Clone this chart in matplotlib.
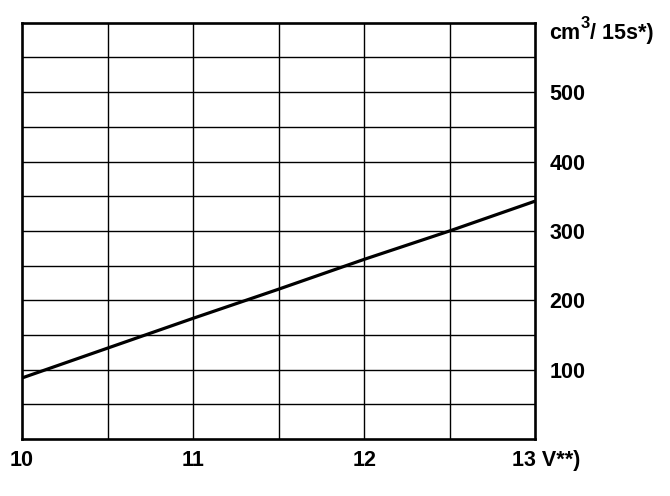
import matplotlib
matplotlib.use("Agg")
from matplotlib import pyplot as plt
import numpy as np

plt.rcParams["font.family"] = ["Liberation Sans", "DejaVu Sans"]
plt.rcParams["font.weight"] = "bold"

# voltage (V) vs delivery (cm3 / 15 s)
volts = [10.0, 10.5, 11.0, 11.5, 12.0, 12.5, 13.0]
delivery = [88, 131, 174, 216, 259, 300, 343]

x_ticks = [10, 11, 12]
x_labels = ["10", "11", "12"]
y_ticks = [100, 200, 300, 400, 500]
y_labels = ["100", "200", "300", "400", "500"]

FS = 15.5

fig = plt.figure(figsize=(6.7, 4.96), dpi=100)
ax = fig.add_axes([0.033, 0.115, 0.766, 0.839])

ax.set_xlim(10, 13)
ax.set_ylim(0, 600)

# grid: every 0.5 V and every 50 cm3
for gx in np.arange(10.5, 13, 0.5):
    ax.axvline(gx, color="black", linewidth=1.0, zorder=1)
for gy in np.arange(50, 600, 50):
    ax.axhline(gy, color="black", linewidth=1.0, zorder=1)

ax.plot(volts, delivery, color="black", linewidth=2.3, solid_capstyle="butt", zorder=3)

ax.set_xticks(x_ticks)
ax.set_xticklabels(x_labels, fontsize=FS, fontweight="bold")
ax.yaxis.tick_right()
ax.set_yticks(y_ticks)
ax.set_yticklabels(y_labels, fontsize=FS, fontweight="bold")
ax.tick_params(axis="both", which="both", length=0)
ax.tick_params(axis="x", pad=8)
ax.tick_params(axis="y", pad=10)
for lbl in ax.get_yticklabels():
    lbl.set_horizontalalignment("left")

for s in ax.spines.values():
    s.set_linewidth(1.9)
    s.set_color("black")
    s.set_zorder(4)

# unit labels
ax.annotate("13 V**)", xy=(1, 0), xycoords="axes fraction",
            xytext=(-17, -15.5), textcoords="offset points",
            ha="left", va="center", fontsize=FS, fontweight="bold")
cm = ax.annotate("cm", xy=(1, 1), xycoords="axes fraction",
                 xytext=(10, -12), textcoords="offset points",
                 ha="left", va="baseline", fontsize=FS, fontweight="bold")
sup = ax.annotate("3", xy=(1, 1), xycoords=(cm, "axes fraction"),
                  xytext=(0.5, -3.5), textcoords="offset points",
                  ha="left", va="baseline", fontsize=12, fontweight="bold")
ax.annotate("/ 15s*)", xy=(1, 1), xycoords=(sup, "axes fraction"),
            xytext=(0, -12), textcoords="offset points",
            ha="left", va="baseline", fontsize=FS, fontweight="bold")

fig.savefig("out.png", dpi=100)
